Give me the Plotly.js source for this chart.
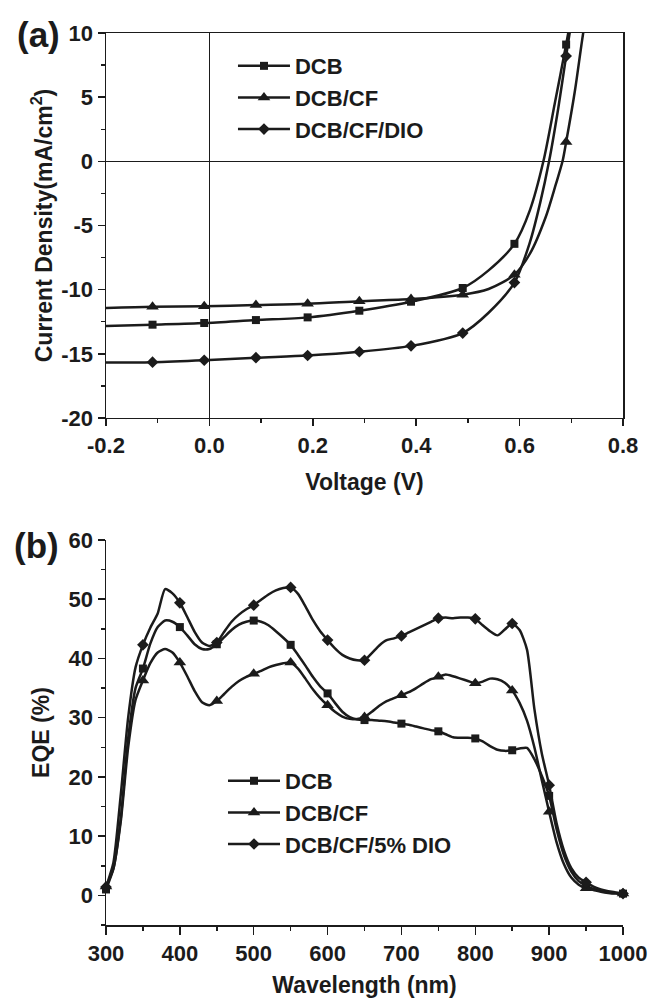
<!DOCTYPE html>
<html>
<head>
<meta charset="utf-8">
<script src="https://cdn.plot.ly/plotly-3.0.1.min.js"></script>
<style>html,body{margin:0;padding:0;background:#fff;}#chart{width:651px;height:1001px;}</style>
</head>
<body>
<div id="chart"></div>
<script>
// ---------- (a) J-V curves ----------
const jvSeriesNames = ['DCB', 'DCB/CF', 'DCB/CF/DIO'];
const jvMarkerV = [-0.11, -0.01, 0.09, 0.19, 0.29, 0.39, 0.49, 0.59, 0.69];

const vDCB = [-0.2, -0.11, -0.01, 0.09, 0.19, 0.29, 0.39, 0.49, 0.54, 0.59, 0.62, 0.646, 0.668, 0.69, 0.71];
const jDCB = [-12.84, -12.73, -12.6, -12.37, -12.16, -11.64, -10.94, -9.87, -8.5, -6.43, -3.8, 0, 4.5, 9.1, 13.5];

const vCF = [-0.2, -0.11, -0.01, 0.09, 0.19, 0.29, 0.39, 0.49, 0.54, 0.59, 0.62, 0.65, 0.67, 0.683, 0.69, 0.707, 0.723, 0.74];
const jCF = [-11.43, -11.33, -11.3, -11.2, -11.1, -10.9, -10.73, -10.39, -9.95, -8.83, -7.2, -4.4, -1.8, 0, 1.5, 5.5, 10, 14];

const vDIO = [-0.2, -0.11, -0.01, 0.09, 0.19, 0.29, 0.39, 0.49, 0.54, 0.59, 0.62, 0.64, 0.657, 0.675, 0.69, 0.71];
const jDIO = [-15.68, -15.65, -15.5, -15.3, -15.13, -14.84, -14.38, -13.38, -11.8, -9.45, -6.3, -3.2, 0, 4.2, 8.2, 13.5];

const jvXTickVals = [-0.2, 0, 0.2, 0.4, 0.6, 0.8];
const jvXTickText = ['-0.2', '0.0', '0.2', '0.4', '0.6', '0.8'];
const jvYTickVals = [-20, -15, -10, -5, 0, 5, 10];
const jvYTickText = ['-20', '-15', '-10', '-5', '0', '5', '10'];

// ---------- (b) EQE spectra ----------
const eqeSeriesNames = ['DCB', 'DCB/CF', 'DCB/CF/5% DIO'];
const wavelength = [300,310,320,330,340,350,360,370,380,390,400,410,420,430,440,450,460,470,480,490,
  500,510,520,530,540,550,560,570,580,590,600,610,620,630,640,650,660,670,680,690,
  700,710,720,730,740,750,760,770,780,790,800,810,820,830,840,850,860,870,880,890,
  900,910,920,930,940,950,960,970,980,990,1000];
const eqeDCB = [1.0,4.5,13,26.5,35.0,38.3,42.5,45.3,46.4,46.2,45.3,43.9,42.4,41.6,41.6,42.4,43.6,44.8,45.7,46.2,
  46.4,46.2,45.6,44.6,43.5,42.3,40.6,38.8,36.9,35.3,34.1,32.5,31.0,30.1,29.7,29.6,29.6,29.5,29.4,29.2,
  29.0,28.8,28.5,28.2,27.9,27.7,27.2,26.7,26.6,26.6,26.5,26.0,25.2,24.6,24.4,24.5,24.8,24.9,23.0,20.2,
  16.8,11.2,6.8,4.0,2.4,1.6,1.1,0.8,0.5,0.4,0.3];
const eqeCF = [1.5,4.5,12.5,25,33.0,36.3,39.2,41.0,41.6,41.0,39.3,37.0,34.5,32.6,32.1,32.8,34.0,35.2,36.2,36.9,
  37.4,37.9,38.5,38.9,39.2,39.3,38.3,36.6,34.8,33.3,32.1,31.0,30.2,29.8,29.8,30.1,31.0,32.0,32.8,33.3,
  33.8,34.3,35.0,35.8,36.5,36.9,37.3,37.0,36.6,36.2,35.8,36.1,36.6,36.5,35.9,34.6,32.5,29.5,25.0,19.5,
  14.1,9.0,5.3,3.0,1.8,1.2,0.9,0.6,0.4,0.3,0.3];
const eqeDIO = [1.4,5.5,17,30,38.5,42.3,45.2,47.6,51.7,51.0,49.4,47.0,44.5,42.7,42.1,42.7,44.5,46.2,47.4,48.3,
  49.0,49.9,50.8,51.5,51.9,52.0,50.9,48.8,46.5,44.6,43.1,41.7,40.6,40.0,39.7,39.7,40.9,42.2,43.1,43.4,
  43.8,44.4,45.0,45.6,46.2,46.8,46.9,46.8,46.9,46.9,46.7,45.6,44.6,43.9,44.9,45.9,44.8,41.5,31.5,24.0,
  18.6,12.2,7.6,4.6,3.0,2.2,1.5,1.0,0.7,0.5,0.3];
const eqeMarkerStep = 50;
const eqeXTickVals = [300, 400, 500, 600, 700, 800, 900, 1000];
const eqeYTickVals = [0, 10, 20, 30, 40, 50, 60];

// ---------- styling ----------
const INK = '#1b1b1b';
const FAM = 'Liberation Sans, Arial, Helvetica, sans-serif';
const tickFont = {family: FAM, size: 22, color: INK, weight: 700};
const titleFont = {family: FAM, size: 23, color: INK, weight: 700};
const legendFont = {family: FAM, size: 22, color: INK, weight: 700};
const symbols = ['square', 'triangle-up', 'diamond'];
const msizes = [8, 11, 9];
const LW = 2.5;

function pick(xs, ys, keep) {
  const ox = [], oy = [];
  xs.forEach((x, i) => { if (keep(x)) { ox.push(x); oy.push(ys[i]); } });
  return {x: ox, y: oy};
}

const traces = [];
// J-V
[[vDCB, jDCB], [vCF, jCF], [vDIO, jDIO]].forEach((s, k) => {
  traces.push({x: s[0], y: s[1], xaxis: 'x', yaxis: 'y', mode: 'lines', type: 'scatter',
    line: {color: INK, width: LW, shape: 'spline', smoothing: 0.8}, showlegend: false, hoverinfo: 'skip'});
  const m = pick(s[0], s[1], v => jvMarkerV.some(mv => Math.abs(mv - v) < 1e-9));
  traces.push({x: m.x, y: m.y, xaxis: 'x', yaxis: 'y', mode: 'markers', type: 'scatter', cliponaxis: true,
    marker: {symbol: symbols[k], size: msizes[k], color: INK}, showlegend: false, hoverinfo: 'skip'});
});
jvSeriesNames.forEach((nm, k) => {
  traces.push({x: [null], y: [null], xaxis: 'x', yaxis: 'y', name: nm, mode: 'lines+markers', type: 'scatter',
    legend: 'legend',
    line: {color: INK, width: LW}, marker: {symbol: symbols[k], size: msizes[k], color: INK}});
});
// EQE
[eqeDCB, eqeCF, eqeDIO].forEach((ys, k) => {
  traces.push({x: wavelength, y: ys, xaxis: 'x2', yaxis: 'y2', mode: 'lines', type: 'scatter',
    line: {color: INK, width: LW, shape: 'spline', smoothing: 0.6}, showlegend: false, hoverinfo: 'skip'});
  const m = pick(wavelength, ys, w => w % eqeMarkerStep === 0);
  traces.push({x: m.x, y: m.y, xaxis: 'x2', yaxis: 'y2', mode: 'markers', type: 'scatter', cliponaxis: false,
    marker: {symbol: symbols[k], size: msizes[k], color: INK}, showlegend: false, hoverinfo: 'skip'});
});
eqeSeriesNames.forEach((nm, k) => {
  traces.push({x: [null], y: [null], xaxis: 'x2', yaxis: 'y2', name: nm, mode: 'lines+markers', type: 'scatter',
    legend: 'legend2',
    line: {color: INK, width: LW}, marker: {symbol: symbols[k], size: msizes[k], color: INK}});
});

const axBase = {showgrid: false, linecolor: INK, linewidth: 1.5, tickcolor: INK, tickwidth: 1.5,
  tickfont: tickFont, automargin: false};

const layout = {
  width: 651, height: 1001,
  margin: {l: 106, r: 28, t: 33, b: 76},
  paper_bgcolor: '#fff', plot_bgcolor: '#fff',
  font: {family: FAM, color: INK},
  xaxis: Object.assign({}, axBase, {domain: [0, 1], anchor: 'y', range: [-0.2, 0.8],
    tickmode: 'array', tickvals: jvXTickVals, ticktext: jvXTickText,
    ticks: 'outside', ticklen: 7,
    minor: {tickmode: 'linear', tick0: -0.2, dtick: 0.1, ticks: 'outside', ticklen: 4, tickcolor: INK, tickwidth: 1.5},
    showline: true, mirror: true, zeroline: true, zerolinecolor: INK, zerolinewidth: 1,
    title: {text: 'Voltage (V)', font: titleFont, standoff: 17}}),
  yaxis: Object.assign({}, axBase, {domain: [0.5684, 1], anchor: 'x', range: [-20, 10],
    tickmode: 'array', tickvals: jvYTickVals, ticktext: jvYTickText,
    ticks: 'outside', ticklen: 7,
    minor: {tickmode: 'linear', tick0: -20, dtick: 2.5, ticks: 'outside', ticklen: 4, tickcolor: INK, tickwidth: 1.5},
    showline: true, mirror: true, zeroline: true, zerolinecolor: INK, zerolinewidth: 1,
    title: {text: 'Current Density(mA/cm<sup>2</sup>)', font: titleFont, standoff: 2}}),
  xaxis2: Object.assign({}, axBase, {domain: [0, 1], anchor: 'y2', range: [300, 1000],
    tickmode: 'array', tickvals: eqeXTickVals,
    ticks: 'outside', ticklen: 8,
    minor: {tickmode: 'linear', tick0: 300, dtick: 50, ticks: 'outside', ticklen: 4, tickcolor: INK, tickwidth: 1.5},
    showline: true, zeroline: false,
    title: {text: 'Wavelength (nm)', font: titleFont, standoff: 12}}),
  yaxis2: Object.assign({}, axBase, {domain: [0, 0.4316], anchor: 'x2', range: [-5, 60],
    tickmode: 'array', tickvals: eqeYTickVals,
    ticks: 'outside', ticklen: 7,
    minor: {tickmode: 'linear', tick0: 0, dtick: 5, ticks: 'outside', ticklen: 4, tickcolor: INK, tickwidth: 1.5},
    showline: true, zeroline: false,
    title: {text: 'EQE (%)', font: titleFont, standoff: 12}}),
  xaxis3: Object.assign({}, axBase, {overlaying: 'x2', anchor: 'y2', side: 'top', range: [300, 1000],
    tickmode: 'linear', tick0: 300, dtick: 50, ticks: 'inside', ticklen: 4,
    showticklabels: false, showline: true, zeroline: false}),
  yaxis3: Object.assign({}, axBase, {overlaying: 'y2', anchor: 'x2', side: 'right', range: [-5, 60],
    tickmode: 'linear', tick0: 0, dtick: 5, ticks: 'inside', ticklen: 4,
    showticklabels: false, showline: true, zeroline: false}),
  legend: {x: 0.2456, y: 0.9865, xanchor: 'left', yanchor: 'top', bgcolor: 'rgba(0,0,0,0)',
    borderwidth: 0, itemwidth: 52, tracegroupgap: 0, font: legendFont},
  legend2: {x: 0.2263, y: 0.1850, xanchor: 'left', yanchor: 'top', bgcolor: 'rgba(0,0,0,0)',
    borderwidth: 0, itemwidth: 52, tracegroupgap: 0, font: legendFont},
  annotations: [
    {text: '(a)', xref: 'paper', yref: 'paper', x: -0.1315, y: 0.9978, xanchor: 'center', yanchor: 'middle',
      showarrow: false, font: {family: FAM, size: 35, color: INK, weight: 700}},
    {text: '(b)', xref: 'paper', yref: 'paper', x: -0.1335, y: 0.4249, xanchor: 'center', yanchor: 'middle',
      showarrow: false, font: {family: FAM, size: 35, color: INK, weight: 700}}
  ],
  showlegend: true
};

Plotly.newPlot('chart', traces, layout, {staticPlot: true, displayModeBar: false});
</script>
</body>
</html>
